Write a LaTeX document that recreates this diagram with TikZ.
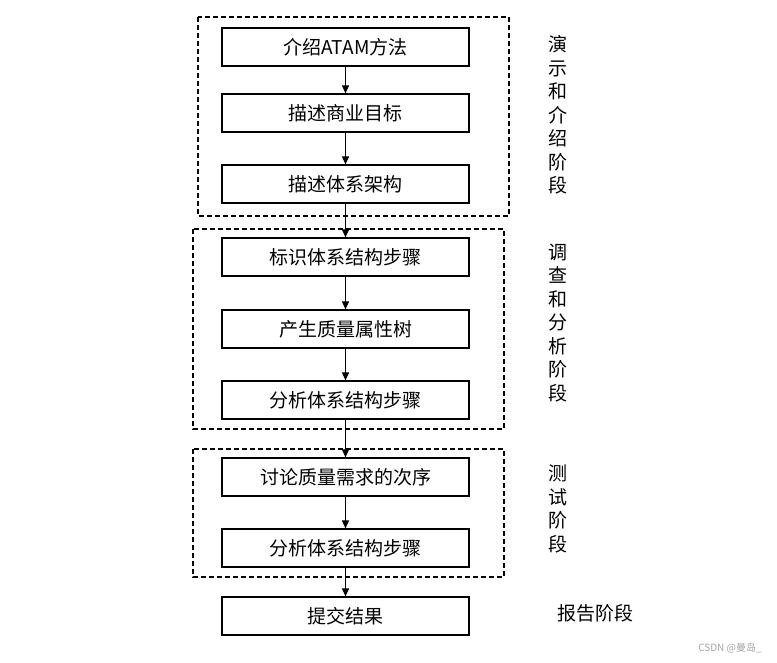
\documentclass[tikz,border=0pt]{standalone}
\usepackage{fontspec}
\setmainfont{Liberation Serif}
\newfontfamily\cjk{Noto Sans CJK SC}
\usetikzlibrary{arrows.meta}
\begin{document}
\begin{tikzpicture}[x=1pt,y=-1pt,
  stepbox/.style={draw,line width=1.2pt,minimum width=247pt,minimum height=38pt,inner sep=0pt,font=\cjk\fontsize{19}{19}\selectfont},
  grp/.style={draw,dash pattern=on 5pt off 3pt,line width=1.2pt},
  arr/.style={-{Triangle[length=8pt,width=7pt]},line width=1pt},
  side/.style={font=\cjk\fontsize{19}{23.5}\selectfont,align=center,inner sep=0pt}]
\useasboundingbox[fill=white] (0,0) rectangle (777,662);
\draw[grp] (198,17) rectangle (509,216);
\draw[grp] (193,229) rectangle (504,429);
\draw[grp] (193,449) rectangle (504,577);
\node[stepbox] (b1) at (345.5,47) {介绍ATAM方法};
\node[stepbox] (b2) at (345.5,113) {描述商业目标};
\node[stepbox] (b3) at (345.5,184) {描述体系架构};
\node[stepbox] (b4) at (345.5,257) {标识体系结构步骤};
\node[stepbox] (b5) at (345.5,329) {产生质量属性树};
\node[stepbox] (b6) at (345.5,400) {分析体系结构步骤};
\node[stepbox] (b7) at (345.5,477) {讨论质量需求的次序};
\node[stepbox] (b8) at (345.5,548) {分析体系结构步骤};
\node[stepbox] (b9) at (345.5,616) {提交结果};
\foreach \a/\b in {b1/b2,b2/b3,b3/b4,b4/b5,b5/b6,b6/b7,b7/b8,b8/b9}
  \draw[arr] (\a.south) -- (\b.north);
\node[side] (s1) at (558,115) {演\\示\\和\\介\\绍\\阶\\段};
\node[side] (s2) at (558,323) {调\\查\\和\\分\\析\\阶\\段};
\node[side] (s3) at (558,509) {测\\试\\阶\\段};
\node[side] (s4) at (595,613) {报告阶段};
\node[font=\cjk\fontsize{10}{10}\selectfont,text=gray!70] (c) at (730,648) {CSDN @曼岛\_};
\end{tikzpicture}
\end{document}
